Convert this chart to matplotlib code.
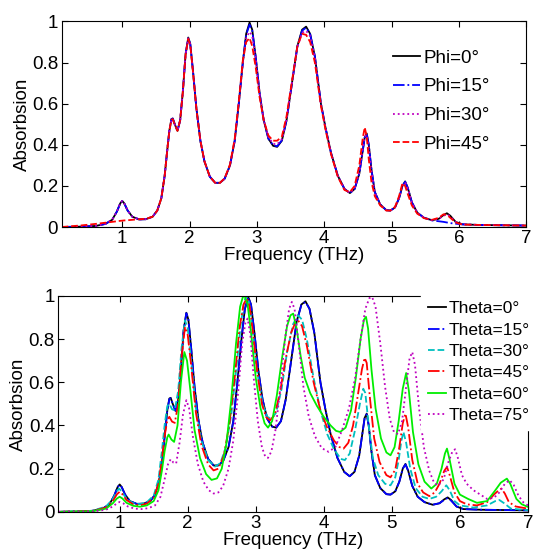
import matplotlib
matplotlib.use('Agg')
from matplotlib import pyplot as plt

plt.rcParams['font.family'] = ['Liberation Sans', 'DejaVu Sans']

# ---- top panel: Phi sweep (shared frequency grid) ----
freq_top = [0.10, 0.40, 0.60, 0.75, 0.85, 0.92, 0.97, 1.00, 1.03, 1.08,
            1.15, 1.25, 1.35, 1.45, 1.52, 1.58, 1.63, 1.67, 1.70, 1.73,
            1.75, 1.78, 1.82, 1.86, 1.90, 1.94, 1.98, 2.01, 2.05, 2.10,
            2.16, 2.22, 2.30, 2.38, 2.45, 2.52, 2.60, 2.67, 2.73, 2.79,
            2.84, 2.89, 2.93, 2.98, 3.04, 3.10, 3.17, 3.24, 3.30, 3.37,
            3.44, 3.52, 3.60, 3.67, 3.73, 3.79, 3.86, 3.95, 4.02, 4.10,
            4.20, 4.30, 4.38, 4.45, 4.52, 4.57, 4.60, 4.63, 4.66, 4.70,
            4.75, 4.83, 4.92, 4.98, 5.05, 5.11, 5.16, 5.20, 5.24, 5.30,
            5.38, 5.48, 5.60, 5.70, 5.77, 5.82, 5.87, 5.95, 6.05, 6.30,
            7.00]

phi0 = [0.000, 0.002, 0.005, 0.015, 0.035, 0.075, 0.115, 0.127, 0.115, 0.080,
        0.050, 0.037, 0.038, 0.050, 0.080, 0.140, 0.250, 0.380, 0.470, 0.525,
        0.528, 0.500, 0.468, 0.520, 0.660, 0.840, 0.922, 0.890, 0.760, 0.580,
        0.420, 0.320, 0.245, 0.215, 0.215, 0.235, 0.300, 0.420, 0.600, 0.800,
        0.940, 0.995, 0.960, 0.830, 0.650, 0.520, 0.430, 0.395, 0.390, 0.420,
        0.520, 0.700, 0.880, 0.960, 0.975, 0.940, 0.830, 0.600, 0.480, 0.360,
        0.250, 0.185, 0.165, 0.185, 0.260, 0.370, 0.435, 0.455, 0.400, 0.280,
        0.170, 0.110, 0.082, 0.080, 0.095, 0.140, 0.200, 0.222, 0.190, 0.120,
        0.070, 0.045, 0.033, 0.040, 0.058, 0.067, 0.055, 0.025, 0.013, 0.010,
        0.007]

phi15 = [0.000, 0.002, 0.005, 0.015, 0.035, 0.075, 0.115, 0.127, 0.115, 0.080,
         0.050, 0.037, 0.038, 0.050, 0.080, 0.140, 0.250, 0.380, 0.470, 0.525,
         0.528, 0.500, 0.468, 0.520, 0.660, 0.840, 0.922, 0.890, 0.760, 0.580,
         0.420, 0.320, 0.245, 0.215, 0.215, 0.235, 0.300, 0.420, 0.600, 0.800,
         0.935, 0.985, 0.955, 0.830, 0.650, 0.520, 0.430, 0.398, 0.393, 0.422,
         0.520, 0.700, 0.878, 0.955, 0.970, 0.938, 0.830, 0.600, 0.480, 0.360,
         0.250, 0.185, 0.165, 0.185, 0.260, 0.370, 0.435, 0.452, 0.400, 0.280,
         0.170, 0.110, 0.082, 0.080, 0.095, 0.140, 0.200, 0.220, 0.190, 0.120,
         0.070, 0.045, 0.032, 0.028, 0.025, 0.022, 0.019, 0.016, 0.013, 0.010,
         0.007]

phi30 = [0.000, 0.002, 0.005, 0.015, 0.035, 0.075, 0.115, 0.127, 0.115, 0.080,
         0.050, 0.037, 0.038, 0.050, 0.080, 0.140, 0.250, 0.380, 0.470, 0.522,
         0.525, 0.498, 0.468, 0.520, 0.660, 0.838, 0.918, 0.888, 0.760, 0.580,
         0.420, 0.320, 0.245, 0.215, 0.215, 0.235, 0.300, 0.420, 0.600, 0.795,
         0.920, 0.950, 0.930, 0.825, 0.650, 0.522, 0.438, 0.405, 0.402, 0.428,
         0.525, 0.700, 0.875, 0.945, 0.955, 0.928, 0.825, 0.598, 0.478, 0.360,
         0.250, 0.185, 0.166, 0.188, 0.265, 0.380, 0.440, 0.448, 0.390, 0.275,
         0.168, 0.110, 0.082, 0.080, 0.095, 0.140, 0.200, 0.218, 0.188, 0.120,
         0.070, 0.045, 0.033, 0.040, 0.055, 0.062, 0.052, 0.025, 0.013, 0.010,
         0.007]

phi45 = [0.000, 0.008, 0.015, 0.021, 0.025, 0.028, 0.030, 0.031, 0.032, 0.033,
         0.035, 0.038, 0.040, 0.050, 0.080, 0.140, 0.250, 0.380, 0.470, 0.522,
         0.525, 0.498, 0.468, 0.520, 0.660, 0.838, 0.915, 0.885, 0.755, 0.578,
         0.420, 0.320, 0.245, 0.215, 0.215, 0.237, 0.305, 0.430, 0.610, 0.810,
         0.900, 0.920, 0.880, 0.780, 0.630, 0.520, 0.445, 0.420, 0.420, 0.440,
         0.540, 0.710, 0.880, 0.940, 0.935, 0.900, 0.800, 0.590, 0.470, 0.355,
         0.245, 0.180, 0.170, 0.200, 0.300, 0.430, 0.485, 0.440, 0.330, 0.220,
         0.150, 0.105, 0.080, 0.080, 0.098, 0.150, 0.213, 0.200, 0.160, 0.105,
         0.065, 0.043, 0.035, 0.045, 0.062, 0.060, 0.045, 0.022, 0.012, 0.010,
         0.007]

phi_labels = ['Phi=0°', 'Phi=15°', 'Phi=30°', 'Phi=45°']

# ---- bottom panel: Theta sweep ----
theta0 = phi0
theta15 = [0.000, 0.002, 0.005, 0.015, 0.035, 0.075, 0.115, 0.125, 0.115, 0.080,
           0.050, 0.037, 0.038, 0.050, 0.080, 0.140, 0.250, 0.380, 0.470, 0.522,
           0.526, 0.500, 0.468, 0.520, 0.660, 0.840, 0.920, 0.890, 0.760, 0.580,
           0.420, 0.320, 0.245, 0.215, 0.215, 0.235, 0.300, 0.420, 0.600, 0.800,
           0.940, 0.993, 0.960, 0.830, 0.650, 0.520, 0.430, 0.395, 0.390, 0.420,
           0.520, 0.700, 0.878, 0.958, 0.972, 0.940, 0.830, 0.600, 0.480, 0.360,
           0.250, 0.185, 0.165, 0.185, 0.260, 0.370, 0.435, 0.452, 0.400, 0.280,
           0.170, 0.110, 0.082, 0.080, 0.095, 0.140, 0.200, 0.220, 0.190, 0.120,
           0.070, 0.045, 0.033, 0.040, 0.056, 0.064, 0.052, 0.025, 0.013, 0.010,
           0.007]

theta30_x = [0.10, 0.60, 0.80, 0.90, 0.96, 0.99, 1.03, 1.10, 1.20, 1.30,
             1.40, 1.50, 1.57, 1.62, 1.66, 1.70, 1.73, 1.77, 1.81, 1.86,
             1.91, 1.96, 2.00, 2.05, 2.12, 2.20, 2.30, 2.40, 2.48, 2.56,
             2.64, 2.72, 2.78, 2.83, 2.86, 2.90, 2.95, 3.02, 3.10, 3.17,
             3.23, 3.30, 3.38, 3.46, 3.55, 3.62, 3.68, 3.75, 3.85, 3.95,
             4.05, 4.15, 4.25, 4.31, 4.38, 4.46, 4.53, 4.58, 4.61, 4.66,
             4.72, 4.80, 4.90, 4.98, 5.05, 5.10, 5.14, 5.17, 5.21, 5.27,
             5.35, 5.45, 5.55, 5.65, 5.73, 5.80, 5.85, 5.92, 6.00, 6.20,
             6.40, 6.52, 6.58, 6.65, 6.75, 7.00]
theta30_y = [0.000, 0.005, 0.025, 0.060, 0.095, 0.108, 0.095, 0.060, 0.040, 0.036,
             0.045, 0.075, 0.150, 0.280, 0.400, 0.490, 0.500, 0.475, 0.470, 0.560,
             0.760, 0.887, 0.850, 0.700, 0.480, 0.330, 0.240, 0.210, 0.225, 0.300,
             0.450, 0.680, 0.870, 0.975, 1.000, 0.970, 0.850, 0.650, 0.500, 0.440,
             0.430, 0.460, 0.570, 0.740, 0.870, 0.910, 0.890, 0.800, 0.620, 0.470,
             0.360, 0.290, 0.245, 0.240, 0.270, 0.380, 0.500, 0.570, 0.550, 0.400,
             0.250, 0.170, 0.130, 0.123, 0.160, 0.240, 0.330, 0.370, 0.320, 0.200,
             0.110, 0.070, 0.060, 0.070, 0.095, 0.123, 0.100, 0.050, 0.030, 0.020,
             0.030, 0.050, 0.055, 0.040, 0.015, 0.008]

theta45_x = [0.10, 0.60, 0.80, 0.90, 0.96, 1.00, 1.04, 1.10, 1.20, 1.30,
             1.40, 1.50, 1.57, 1.62, 1.66, 1.70, 1.73, 1.77, 1.81, 1.86,
             1.91, 1.96, 2.00, 2.05, 2.12, 2.20, 2.30, 2.38, 2.45, 2.53,
             2.61, 2.69, 2.76, 2.82, 2.87, 2.91, 2.96, 3.02, 3.09, 3.15,
             3.21, 3.28, 3.36, 3.44, 3.52, 3.58, 3.63, 3.68, 3.75, 3.85,
             3.95, 4.05, 4.15, 4.23, 4.29, 4.36, 4.43, 4.50, 4.56, 4.60,
             4.63, 4.68, 4.74, 4.82, 4.92, 4.98, 5.05, 5.11, 5.16, 5.20,
             5.24, 5.30, 5.38, 5.46, 5.55, 5.63, 5.70, 5.77, 5.81, 5.85,
             5.92, 6.00, 6.10, 6.25, 6.40, 6.50, 6.57, 6.61, 6.66, 6.72,
             6.82, 7.00]
theta45_y = [0.000, 0.004, 0.020, 0.050, 0.082, 0.093, 0.082, 0.055, 0.035, 0.030,
             0.038, 0.065, 0.130, 0.240, 0.350, 0.425, 0.440, 0.418, 0.412, 0.500,
             0.720, 0.856, 0.820, 0.680, 0.460, 0.310, 0.220, 0.192, 0.200, 0.260,
             0.400, 0.620, 0.850, 0.960, 0.990, 0.950, 0.830, 0.650, 0.500, 0.440,
             0.424, 0.450, 0.560, 0.710, 0.830, 0.875, 0.883, 0.860, 0.770, 0.600,
             0.470, 0.390, 0.330, 0.300, 0.293, 0.320, 0.400, 0.540, 0.660, 0.713,
             0.690, 0.520, 0.340, 0.230, 0.170, 0.160, 0.195, 0.300, 0.410, 0.455,
             0.390, 0.240, 0.130, 0.090, 0.073, 0.090, 0.130, 0.190, 0.208, 0.170,
             0.090, 0.050, 0.035, 0.030, 0.045, 0.080, 0.100, 0.108, 0.085, 0.045,
             0.025, 0.015]

theta60_x = [0.10, 0.60, 0.80, 0.90, 0.96, 1.00, 1.04, 1.10, 1.20, 1.30,
             1.40, 1.50, 1.57, 1.62, 1.66, 1.70, 1.72, 1.76, 1.80, 1.85,
             1.90, 1.95, 1.99, 2.04, 2.10, 2.18, 2.27, 2.35, 2.43, 2.50,
             2.57, 2.64, 2.71, 2.77, 2.81, 2.84, 2.88, 2.93, 3.00, 3.07,
             3.13, 3.18, 3.24, 3.31, 3.39, 3.46, 3.51, 3.55, 3.60, 3.66,
             3.72, 3.80, 3.90, 4.00, 4.10, 4.18, 4.24, 4.32, 4.40, 4.47,
             4.54, 4.59, 4.62, 4.65, 4.70, 4.76, 4.84, 4.92, 4.98, 5.04,
             5.10, 5.16, 5.21, 5.25, 5.31, 5.39, 5.48, 5.58, 5.66, 5.73,
             5.78, 5.81, 5.85, 5.92, 6.00, 6.12, 6.25, 6.40, 6.52, 6.60,
             6.69, 6.74, 6.83, 6.91, 7.00]
theta60_y = [0.000, 0.003, 0.015, 0.040, 0.062, 0.070, 0.062, 0.042, 0.028, 0.024,
             0.030, 0.050, 0.100, 0.190, 0.280, 0.345, 0.358, 0.335, 0.324, 0.400,
             0.600, 0.740, 0.700, 0.560, 0.380, 0.250, 0.175, 0.148, 0.155, 0.200,
             0.320, 0.520, 0.780, 0.950, 0.995, 1.000, 0.960, 0.830, 0.620, 0.480,
             0.410, 0.390, 0.420, 0.540, 0.720, 0.860, 0.910, 0.918, 0.850, 0.720,
             0.620, 0.550, 0.490, 0.440, 0.400, 0.375, 0.370, 0.390, 0.470, 0.620,
             0.800, 0.890, 0.903, 0.850, 0.660, 0.480, 0.340, 0.275, 0.262, 0.300,
             0.420, 0.570, 0.643, 0.560, 0.370, 0.220, 0.140, 0.108, 0.130, 0.200,
             0.270, 0.293, 0.240, 0.130, 0.080, 0.060, 0.042, 0.050, 0.100, 0.135,
             0.154, 0.130, 0.060, 0.035, 0.023]

theta75_x = [0.10, 0.60, 0.80, 0.90, 0.96, 1.00, 1.05, 1.12, 1.22, 1.32,
             1.42, 1.52, 1.60, 1.66, 1.71, 1.75, 1.79, 1.83, 1.88, 1.93,
             1.98, 2.02, 2.08, 2.15, 2.23, 2.31, 2.38, 2.45, 2.52, 2.60,
             2.67, 2.74, 2.80, 2.85, 2.88, 2.92, 2.97, 3.03, 3.09, 3.14,
             3.18, 3.23, 3.29, 3.36, 3.43, 3.49, 3.53, 3.57, 3.63, 3.70,
             3.78, 3.87, 3.97, 4.07, 4.17, 4.27, 4.37, 4.46, 4.54, 4.61,
             4.67, 4.71, 4.76, 4.83, 4.90, 4.97, 5.03, 5.09, 5.15, 5.21,
             5.26, 5.30, 5.34, 5.40, 5.47, 5.55, 5.62, 5.68, 5.76, 5.83,
             5.89, 5.93, 5.97, 6.03, 6.10, 6.20, 6.30, 6.40, 6.50, 6.58,
             6.66, 6.73, 6.79, 6.86, 6.93, 7.00]
theta75_y = [0.000, 0.002, 0.010, 0.025, 0.040, 0.046, 0.040, 0.025, 0.015, 0.013,
             0.017, 0.030, 0.070, 0.150, 0.220, 0.244, 0.228, 0.224, 0.320, 0.450,
             0.517, 0.480, 0.340, 0.220, 0.140, 0.100, 0.085, 0.090, 0.120, 0.200,
             0.330, 0.550, 0.780, 0.880, 0.895, 0.820, 0.620, 0.420, 0.300, 0.255,
             0.250, 0.280, 0.380, 0.570, 0.800, 0.940, 0.972, 0.940, 0.780, 0.580,
             0.440, 0.350, 0.295, 0.278, 0.300, 0.380, 0.480, 0.620, 0.800, 0.940,
             0.990, 0.995, 0.950, 0.780, 0.580, 0.430, 0.370, 0.360, 0.420, 0.580,
             0.710, 0.740, 0.680, 0.480, 0.300, 0.190, 0.135, 0.122, 0.150, 0.230,
             0.280, 0.290, 0.250, 0.170, 0.130, 0.100, 0.080, 0.060, 0.065, 0.090,
             0.130, 0.147, 0.125, 0.075, 0.045, 0.030]

theta_labels = ['Theta=0°', 'Theta=15°', 'Theta=30°', 'Theta=45°', 'Theta=60°', 'Theta=75°']

xticks = [1, 2, 3, 4, 5, 6, 7]
yticks = [0, 0.2, 0.4, 0.6, 0.8, 1]
ytick_labels = ['0', '0.2', '0.4', '0.6', '0.8', '1']

fs = 13.5
fig = plt.figure(figsize=(5.36, 5.51), dpi=100)
ax1 = fig.add_axes([0.115, 0.588, 0.867, 0.373])
ax2 = fig.add_axes([0.109, 0.071, 0.876, 0.392])

lw = 1.3
ax1.plot(freq_top, phi0, color='k', ls='-', lw=lw, label=phi_labels[0])
ax1.plot(freq_top, phi15, color='b', ls='-.', lw=lw, label=phi_labels[1])
ax1.plot(freq_top, phi30, color='m', ls=':', lw=lw, label=phi_labels[2])
ax1.plot(freq_top, phi45, color='r', ls='--', lw=lw, label=phi_labels[3])

ax2.plot(freq_top, theta0, color='k', ls='-', lw=lw, label=theta_labels[0])
ax2.plot(freq_top, theta15, color='b', ls='-.', lw=lw, label=theta_labels[1])
ax2.plot(theta30_x, theta30_y, color='c', ls='--', lw=lw, label=theta_labels[2])
ax2.plot(theta45_x, theta45_y, color='r', ls='-.', lw=lw, label=theta_labels[3])
ax2.plot(theta60_x, theta60_y, color='#00ee00', ls='-', lw=lw, label=theta_labels[4])
ax2.plot(theta75_x, theta75_y, color='m', ls=':', lw=lw, label=theta_labels[5])

for ax in (ax1, ax2):
    ax.set_xlim(0.1, 7)
    ax.set_ylim(0, 1)
    ax.set_xticks(xticks)
    ax.set_yticks(yticks)
    ax.set_yticklabels(ytick_labels)
    ax.tick_params(direction='in', length=4, width=0.8, top=True, right=True,
                   labelsize=fs, pad=2.5)
    ax.set_xlabel('Frequency (THz)', fontsize=fs, labelpad=0)
    ax.set_ylabel('Absorbsion', fontsize=fs, labelpad=1)
    for s in ax.spines.values():
        s.set_linewidth(0.8)

ax1.legend(loc='upper left', bbox_to_anchor=(0.713, 0.864), frameon=False,
           fontsize=13.5, handlelength=1.45, handletextpad=0.2,
           labelspacing=0.62, borderpad=0, borderaxespad=0)

leg = ax2.legend(loc='upper left', bbox_to_anchor=(0.772, 1.008), frameon=True,
                 fontsize=12.5, handlelength=1.05, handletextpad=0.15,
                 labelspacing=0.36, borderpad=0.4, borderaxespad=0,
                 fancybox=False, framealpha=1)
leg.get_frame().set_facecolor('white')
leg.get_frame().set_edgecolor('white')
leg.set_zorder(10)

fig.savefig('out.png', dpi=100)
